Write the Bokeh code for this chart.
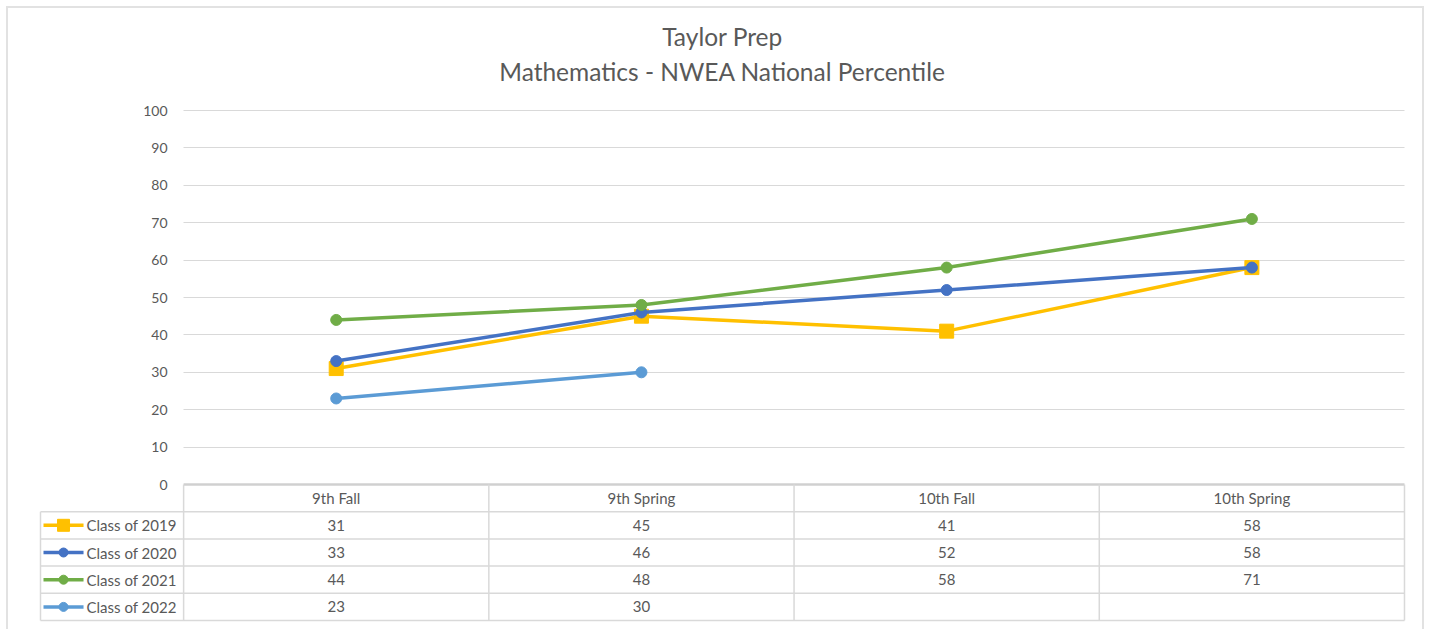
from bokeh.plotting import figure
from bokeh.models import Range1d, FixedTicker, Title
from bokeh.core.properties import value
from bokeh.embed import file_html
from bokeh.resources import INLINE

# ---------------- data ----------------
categories = ["9th Fall", "9th Spring", "10th Fall", "10th Spring"]
series_names = ["Class of 2019", "Class of 2020", "Class of 2021", "Class of 2022"]
class_2019 = [31, 45, 41, 58]
class_2020 = [33, 46, 52, 58]
class_2021 = [44, 48, 58, 71]
class_2022 = [23, 30, None, None]
y_ticks = [0, 10, 20, 30, 40, 50, 60, 70, 80, 90, 100]
title_line1 = "Taylor Prep"
title_line2 = "Mathematics - NWEA National Percentile"

series_values = [class_2019, class_2020, class_2021, class_2022]
colors = ["#FFC000", "#4472C4", "#70AD47", "#5B9BD5"]
markers = ["square", "circle", "circle", "circle"]
marker_sizes = [14, 11, 11, 11]

FONT = "Lato"
TXT = "#595959"
GRID = "#d9d9d9"
FRAME_LINE = "#e2e2e2"

# ---------------- layout constants ----------------
W, H = 1428, 629
FRAME_L, FRAME_R, FRAME_T, FRAME_B = 38, 1406, 105, 622
PX_X = 305.0          # px per category
PX_Y = 3.74           # px per percentile unit
LEG_W = 143 / PX_X    # legend column width (data units)
ROW = 27.2 / PX_Y     # table row height (data units)
N_ROWS = 1 + len(series_names)
n = len(categories)

x_start = -0.5 - LEG_W - 2 / PX_X
x_end = n - 0.5 + 2 / PX_X
y_end = 100 + 5 / PX_Y
y_start = -N_ROWS * ROW - 2 / PX_Y

p = figure(width=W, height=H, output_backend="svg", toolbar_location=None,
           x_range=Range1d(x_start, x_end), y_range=Range1d(y_start, y_end),
           x_axis_location=None, title=None,
           min_border_left=FRAME_L, min_border_right=W - FRAME_R,
           min_border_top=FRAME_T, min_border_bottom=H - FRAME_B)
p.outline_line_color = None
p.background_fill_color = "white"
p.border_fill_color = None

# light chart-area border (left, top, right) drawn as the page element background
g = f"linear-gradient({FRAME_LINE},{FRAME_LINE})"
p.styles = {
    "background-color": "white",
    "background-image": f"{g}, {g}, {g}",
    "background-repeat": "no-repeat",
    "background-size": "1418px 2px, 2px 640px, 2px 640px",
    "background-position": "6px 6px, 6px 6px, 1422px 6px",
}

# y axis placed at the left edge of the chart area
p.yaxis.fixed_location = -0.5
p.yaxis.bounds = (0, 100)
p.yaxis.ticker = FixedTicker(ticks=y_ticks)
p.yaxis.axis_line_color = None
p.yaxis.major_tick_line_color = None
p.yaxis.minor_tick_line_color = None
p.yaxis.major_label_text_font = FONT
p.yaxis.major_label_text_font_size = "14px"
p.yaxis.major_label_text_color = TXT
p.yaxis.major_label_standoff = 10

p.xgrid.visible = False
p.ygrid.ticker = FixedTicker(ticks=[t for t in y_ticks if t > 0])
p.ygrid.grid_line_color = GRID
p.ygrid.grid_line_width = 1.2
if "cross_bounds" in p.ygrid.properties():
    p.ygrid.cross_bounds = (-0.5, n - 0.5)

# ---------------- data table ----------------
left_edge = -0.5 - LEG_W
p.segment(x0=[-0.5], y0=[0], x1=[n - 0.5], y1=[0], line_color="#d0d0d0", line_width=2.5)
hx0, hy, hx1 = [], [], []
for r in range(1, N_ROWS + 1):
    hx0.append(left_edge); hx1.append(n - 0.5); hy.append(-r * ROW)
p.segment(x0=hx0, y0=hy, x1=hx1, y1=hy, line_color=GRID, line_width=1.5)
vx, vy0, vy1 = [], [], []
for c in range(n + 1):
    vx.append(c - 0.5); vy0.append(0); vy1.append(-N_ROWS * ROW)
vx.append(left_edge); vy0.append(-ROW); vy1.append(-N_ROWS * ROW)
p.segment(x0=vx, y0=vy0, x1=vx, y1=vy1, line_color=GRID, line_width=1.5)

text_kw = dict(text_font=value(FONT), text_font_size="15px", text_color=TXT,
               text_baseline="middle")
p.text(x=list(range(n)), y=[-0.5 * ROW] * n, text=categories, text_align="center", **text_kw)

for i, (name, vals) in enumerate(zip(series_names, series_values)):
    yc = -(i + 1.5) * ROW
    p.text(x=list(range(n)), y=[yc] * n,
           text=["" if v is None else str(v) for v in vals], text_align="center", **text_kw)
    lx0 = left_edge + 3 / PX_X
    lx1 = left_edge + 43 / PX_X
    p.line([lx0, lx1], [yc, yc], line_color=colors[i], line_width=3.5)
    p.scatter([(lx0 + lx1) / 2], [yc], marker=markers[i], size=marker_sizes[i] - 2,
              fill_color=colors[i], line_color=colors[i])
    p.text(x=[lx1 + 3 / PX_X], y=[yc], text=[name], text_align="left", **text_kw)

# ---------------- series lines ----------------
for i, vals in enumerate(series_values):
    ys = [float("nan") if v is None else v for v in vals]
    p.line(list(range(n)), ys, line_color=colors[i], line_width=3.5)
    p.scatter(list(range(n)), ys, marker=markers[i], size=marker_sizes[i],
              fill_color=colors[i], line_color=colors[i])

# ---------------- titles (second line closest to the plot) ----------------
title_kw = dict(align="center", text_font=FONT, text_font_size="24.5px",
                text_color=TXT, text_font_style="normal")
p.add_layout(Title(text=title_line2, standoff=40, **title_kw), "above")
p.add_layout(Title(text=title_line1, standoff=-33, **title_kw), "above")

open("out.html", "w").write(file_html(p, INLINE))
